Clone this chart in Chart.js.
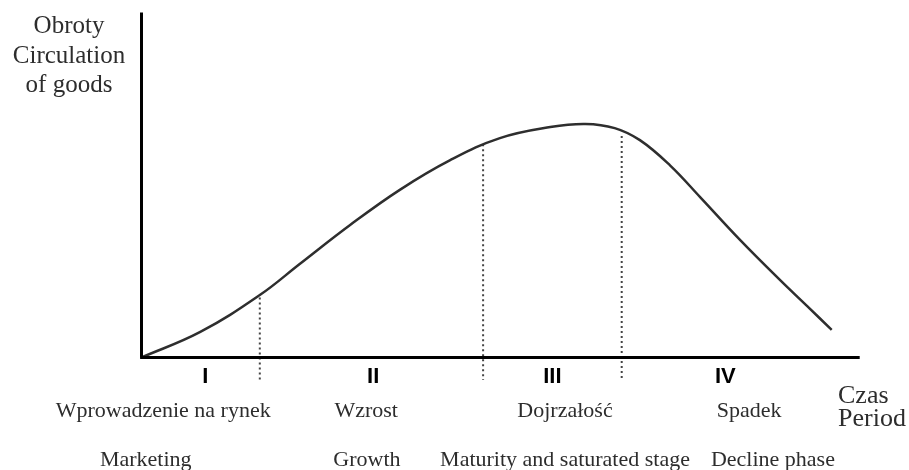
<!DOCTYPE html>
<html>
<head>
<meta charset="utf-8">
<script src="https://cdn.jsdelivr.net/npm/chart.js@4/dist/chart.umd.min.js"></script>
<style>
  body { margin: 0; background: #fff; }
  canvas { display: block; }
</style>
</head>
<body>
<canvas id="lifeCycle" width="909" height="470"></canvas>
<script>
// --- DATA ---
// time (0..100) and circulation of goods (0..100)
const timeValues  = [0, 8.4, 16.9, 22.6, 29.8, 36.9, 44.1, 51.2, 58.4, 63.4, 67.6, 71.2, 75.5, 79.8, 85.5, 91.2, 95.1, 98.6];
const salesValues = [0, 7.4, 18.1, 27.1, 38.4, 48.6, 57.2, 63.6, 66.8, 67.7, 66.5, 63.0, 55.7, 46.5, 34.1, 22.5, 14.9, 8.0];

// boundaries between the stages (dotted lines)
const stageEdges = [16.9, 48.8, 68.6];
const stageTops = [17.4, 61.8, 64.2];
const dottedBottom = -6.5;

const romanLabels = ['I', 'II', 'III', 'IV'];
const romanPos = [9.1, 33.1, 58.7, 83.4];

const stageNamesPl = ['Wprowadzenie na rynek', 'Wzrost', 'Dojrzałość', 'Spadek'];
const stagePosPl = [3.1, 32.1, 60.5, 86.8];
const stageNamesEn = ['Marketing', 'Growth', 'Maturity and saturated stage', 'Decline phase'];
const stagePosEn = [0.6, 32.2, 60.5, 90.2];

const yTitle = ['Obroty', 'Circulation', 'of goods'];
const xTitle = ['Czas', 'Period'];

const xAxisEnd = 102.6;

// --- datasets ---
const curve = timeValues.map((t, i) => ({ x: t, y: salesValues[i] }));

const datasets = [
    {
        data: [{ x: -0.2, y: 0 }, { x: xAxisEnd, y: 0 }],
        borderColor: '#000', borderWidth: 3
    },
    {
        data: [{ x: 0, y: 0 }, { x: 0, y: 100 }],
        borderColor: '#000', borderWidth: 3
    },
    {
        data: curve,
        borderColor: '#2e2e2e', borderWidth: 2.5,
        tension: 0.4
    }
];

stageEdges.forEach((e, i) => {
    datasets.push({
        data: [{ x: e, y: stageTops[i] }, { x: e, y: dottedBottom }],
        borderColor: '#444', borderWidth: 2, borderDash: [2, 3]
    });
});

// text labels
const labelsPlugin = {
    id: 'labels',
    afterDraw(chart) {
        const ctx = chart.ctx;
        const xs = chart.scales.x;
        const axisY = chart.scales.y.getPixelForValue(0);
        ctx.save();
        ctx.textBaseline = 'alphabetic';

        ctx.fillStyle = '#000';
        ctx.font = 'bold 22px "Liberation Sans", Arial, sans-serif';
        ctx.textAlign = 'center';
        romanLabels.forEach((t, i) => ctx.fillText(t, xs.getPixelForValue(romanPos[i]), axisY + 25.5));

        ctx.fillStyle = '#2d2d2d';
        ctx.font = '22px "Liberation Serif", "Times New Roman", serif';
        stageNamesPl.forEach((t, i) => ctx.fillText(t, xs.getPixelForValue(stagePosPl[i]), axisY + 59));
        stageNamesEn.forEach((t, i) => ctx.fillText(t, xs.getPixelForValue(stagePosEn[i]), axisY + 108));

        ctx.font = '25px "Liberation Serif", "Times New Roman", serif';
        yTitle.forEach((t, i) => ctx.fillText(t, 69, 33 + i * 29.5));

        ctx.textAlign = 'left';
        ctx.font = '26px "Liberation Serif", "Times New Roman", serif';
        xTitle.forEach((t, i) => ctx.fillText(t, 838, 403 + i * 23));
        ctx.restore();
    }
};

new Chart(document.getElementById('lifeCycle'), {
    type: 'line',
    data: { datasets },
    options: {
        responsive: false,
        animation: false,
        devicePixelRatio: 1,
        layout: { padding: { left: 141.5, right: 46.5, top: 12.5, bottom: 78 } },
        elements: { point: { radius: 0 }, line: { borderCapStyle: 'butt' } },
        datasets: { line: { clip: false } },
        plugins: { legend: { display: false }, tooltip: { enabled: false } },
        scales: {
            x: { type: 'linear', min: 0, max: 103, display: false },
            y: { min: -10, max: 100, display: false }
        }
    },
    plugins: [labelsPlugin]
});
</script>
</body>
</html>
